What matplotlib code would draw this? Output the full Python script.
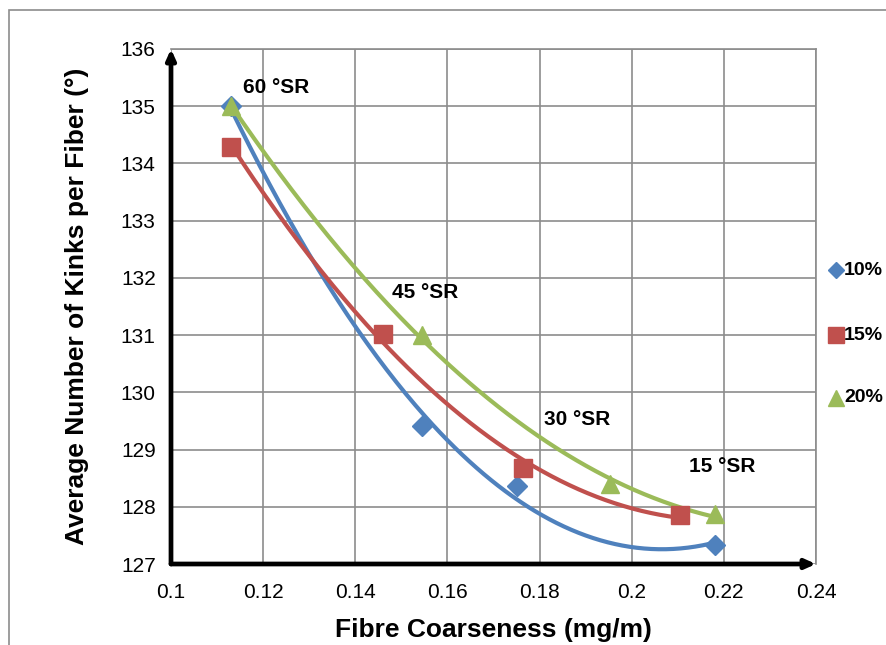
import numpy as np
import matplotlib
matplotlib.use("Agg")
import matplotlib.pyplot as plt
from matplotlib.lines import Line2D
from matplotlib.patches import Rectangle

plt.rcParams['font.family'] = ['Liberation Sans', 'DejaVu Sans']

# data
series_names = ["10%", "15%", "20%"]
x_10 = [0.113, 0.1545, 0.175, 0.218]
y_10 = [135.0, 129.41, 128.36, 127.33]
x_15 = [0.113, 0.146, 0.1763, 0.2105]
y_15 = [134.28, 131.02, 128.68, 127.85]
x_20 = [0.113, 0.1544, 0.1953, 0.218]
y_20 = [135.0, 131.0, 128.40, 127.87]
sr_labels = ["60 °SR", "45 °SR", "30 °SR", "15 °SR"]
sr_label_x = [0.1228, 0.1551, 0.1881, 0.2196]
sr_label_y = [135.32, 131.74, 129.52, 128.70]
x_ticks = [0.1, 0.12, 0.14, 0.16, 0.18, 0.2, 0.22, 0.24]
x_tick_labels = ["0.1", "0.12", "0.14", "0.16", "0.18", "0.2", "0.22", "0.24"]
y_ticks = list(range(127, 137))

colors = ["#4F81BD", "#C0504D", "#9BBB59"]
markers = ["D", "s", "^"]
msizes = [10.5, 13, 13]

W, H = 886, 645
fig = plt.figure(figsize=(W / 100, H / 100), dpi=100)
fig.patch.set_facecolor("white")

# outer chart border (clipped by the image edges)
fig.patches.append(Rectangle((9 / W, -0.1), 1.2, 1 - 10 / H + 0.1,
                             transform=fig.transFigure, fill=False,
                             edgecolor="#8C8C8C", linewidth=1.2))

ax = fig.add_axes([171 / W, 1 - 564 / H, (816 - 171) / W, (564 - 49) / H])
ax.set_xlim(0.1, 0.24)
ax.set_ylim(127, 136)
ax.set_xticks(x_ticks)
ax.set_xticklabels(x_tick_labels)
ax.set_yticks(y_ticks)
ax.grid(True, color="#8C8C8C", linewidth=1.2)
ax.set_axisbelow(True)
for s in ["top", "right"]:
    ax.spines[s].set_color("#8C8C8C")
    ax.spines[s].set_linewidth(1.2)
for s in ["left", "bottom"]:
    ax.spines[s].set_visible(False)
ax.tick_params(length=0, labelsize=15)
ax.tick_params(axis="x", pad=14)
ax.tick_params(axis="y", pad=11)

# thick black axes with arrows
ax.annotate("", xy=(0, 1.0), xytext=(0, 0), xycoords="axes fraction",
            arrowprops=dict(arrowstyle="-|>,head_length=0.6,head_width=0.27",
                            color="black", lw=3.4, shrinkA=0, shrinkB=0),
            annotation_clip=False)
ax.annotate("", xy=(1.0, 0), xytext=(0, 0), xycoords="axes fraction",
            arrowprops=dict(arrowstyle="-|>,head_length=0.6,head_width=0.27",
                            color="black", lw=3.4, shrinkA=0, shrinkB=0),
            annotation_clip=False)

xs = [x_10, x_15, x_20]
ys = [y_10, y_15, y_20]
for x, y, c, m, ms in zip(xs, ys, colors, markers, msizes):
    coef = np.polyfit(x, y, 2)
    xx = np.linspace(min(x), max(x), 200)
    ax.plot(xx, np.polyval(coef, xx), color=c, lw=3, zorder=3)
    ax.plot(x, y, linestyle="none", marker=m, color=c, markersize=ms, zorder=4)

for t, lx, ly in zip(sr_labels, sr_label_x, sr_label_y):
    ax.text(lx, ly, t, ha="center", va="center", fontsize=15,
            fontweight="bold", zorder=5)

ax.set_xlabel("Fibre Coarseness (mg/m)", fontsize=19, fontweight="bold",
              labelpad=11)
ax.set_ylabel("Average Number of Kinks per Fiber (°)", fontsize=19,
              fontweight="bold", labelpad=23)

# legend (right edge of the chart area)
leg_y = [270, 335, 398]
leg_ms = [8, 11, 11]
for name, c, m, ms, py in zip(series_names, colors, markers, leg_ms, leg_y):
    fig.add_artist(Line2D([836 / W], [1 - py / H], marker=m, color=c,
                          markersize=ms, linestyle="none",
                          transform=fig.transFigure))
    fig.text(844 / W, 1 - py / H, name, fontsize=14, fontweight="bold",
             va="center", ha="left")

fig.savefig("out.png", dpi=100)
